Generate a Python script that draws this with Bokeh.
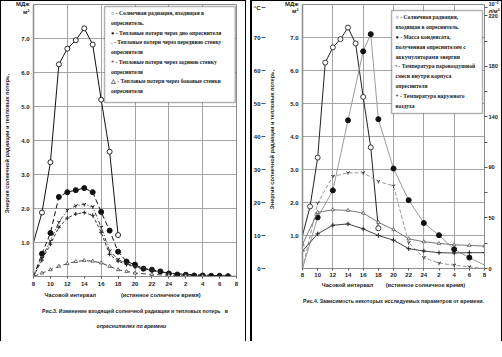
from bokeh.plotting import figure
from bokeh.models import (Range1d, LinearAxis, FixedTicker, Label, BoxAnnotation,
                          NumeralTickFormatter, Title)
from bokeh.layouts import row
from bokeh.embed import file_html
from bokeh.resources import INLINE

# ---------------- data ----------------
HOUR_TICKS = [8, 10, 12, 14, 16, 18, 20, 22, 24, 26, 28, 30, 32]
HOUR_LABELS = ["8", "10", "12", "14", "16", "18", "20", "22", "24", "2", "4", "6", "8"]
GRID_HOURS = [12, 16, 20, 24, 28]
ENERGY_TICKS = [1, 2, 3, 4, 5, 6, 7]
TEMP_TICKS = [0, 10, 20, 30, 40, 50, 60, 70]
MASS_TICKS = [0, 44, 88, 132, 176, 220]
MASS_LABELS = ["0", "50", "90", "140", "180", "220"]
MASS_MINOR = [22, 66, 110, 154, 198]

# solar radiation entering the still, MJ/m2
SOLAR_H = [8, 9, 10, 11, 12, 13, 14, 15, 16, 17, 18]
SOLAR = [1.0, 1.88, 3.36, 6.24, 6.70, 6.95, 7.30, 6.82, 5.20, 3.67, 1.22]

# Fig.3 heat losses, MJ/m2
BOTTOM_H = [8, 9, 10, 11, 12, 13, 14, 15, 16, 17, 18, 19, 20, 21, 22, 23, 24, 25, 26, 27, 28, 29, 30, 31, 32]
BOTTOM = [0.0, 0.67, 1.28, 2.34, 2.48, 2.54, 2.60, 2.48, 1.90, 1.35, 0.73, 0.44, 0.35, 0.23, 0.20,
          0.15, 0.09, 0.06, 0.05, 0.03, 0.03, 0.02, 0.02, 0.01, 0.0]
WALL_H = [8, 9, 10, 11, 12, 13, 14, 15, 16, 17, 18, 19, 20, 21, 22, 23, 24, 26, 28, 30, 32]
FRONT = [0.0, 0.55, 1.05, 1.60, 1.95, 2.08, 2.12, 2.05, 1.45, 0.75, 0.50, 0.38, 0.30, 0.24, 0.18,
         0.14, 0.10, 0.06, 0.04, 0.02, 0.0]
BACK = [0.0, 0.48, 0.95, 1.45, 1.72, 1.84, 1.88, 1.80, 1.30, 0.65, 0.45, 0.35, 0.28, 0.22, 0.17,
        0.13, 0.10, 0.06, 0.04, 0.02, 0.0]
SIDE_H = [8, 9, 10, 11, 12, 13, 14, 15, 16, 17, 18, 19, 20, 22, 24, 26, 28, 30, 32]
SIDE = [0.0, 0.10, 0.20, 0.30, 0.38, 0.44, 0.47, 0.45, 0.40, 0.30, 0.20, 0.15, 0.10, 0.06, 0.04,
        0.02, 0.01, 0.0, 0.0]

# Fig.4
MASS_H = [8, 10, 12, 14, 16, 17, 18, 20, 22, 24, 26, 28, 30, 32]
MASS = [0, 44.5, 68, 129, 189, 204, 130, 87, 59.5, 39.6, 29, 16.7, 9.5, 3]
TEMP_H = [8, 10, 12, 14, 16, 18, 20, 22, 24, 26, 28, 30, 32]
VAPOUR = [0, 19.8, 27.9, 29.0, 29.0, 26.4, 25.0, 7.8, 3.3, 1.6, 1.0, 0.5, 0.0]
WATER = [7.3, 17.0, 17.8, 17.6, 16.8, 14.0, 11.8, 9.0, 8.1, 7.6, 7.2, 7.0, 6.8]
AIR = [5.3, 10.5, 13.1, 13.5, 12.0, 10.0, 8.6, 6.0, 5.3, 4.8, 4.7, 4.8, 4.8]

NB = "\u00a0"
Y_LABEL = "Энергия  солнечной  радиации  и  тепловых потерь,"
X_LABEL_L = "Часовой интервал" + NB * 16 + "(истинное солнечное время)" + NB * 16
X_LABEL_R = "Часовой интервал" + NB * 8 + "(истинное солнечное время)"
CAPTION_3A = "Рис.3. Изменение входящей солнечной радиации и тепловых потерь" + NB * 3 + "в"
CAPTION_3B = "опреснителях по времени"
CAPTION_4 = "Рис.4. Зависимость некоторых исследуемых параметров от времени."
UNIT_ENERGY = "МДж\nм²"
UNIT_TEMP = "°C"
UNIT_MASS = "10⁻²\nл/м²"
LEGEND_3 = ["○ - Солнечная радиация, входящая в",
            "опреснитель.",
            "● - Тепловые потери через дно опреснителя",
            "ᵥ - Тепловые потери через переднюю стенку",
            "опреснителя",
            "+ - Тепловые потери через заднюю стенку",
            "опреснителя",
            "△ - Тепловые потери через боковые стенки",
            "опреснителя"]
LEGEND_4 = ["○ - Солнечная радиация,",
            "входящая в опреснитель.",
            "● - Масса конденсата,",
            "полученная опреснителем с",
            "аккумуляторами энергии",
            "ᵛ - Температура паровоздушной",
            "смеси внутри корпуса",
            "опреснителя",
            "+ - Температура наружного",
            "воздуха"]

SANS = "Liberation Sans"
SERIF = "Liberation Serif"
INK = "#1a1a1a"
GRID = "#9a9a9a"


def style_axis(ax, out=3, standoff=2, size="6px"):
    ax.major_label_text_font = SANS
    ax.major_label_text_font_size = size
    ax.major_label_text_font_style = "bold"
    ax.major_label_text_color = "#222222"
    ax.major_tick_line_color = "#555555"
    ax.minor_tick_line_color = None
    ax.axis_line_color = "#8a8a8a"
    ax.major_tick_in = 0
    ax.major_tick_out = out
    ax.major_label_standoff = standoff


def base_fig(mbl, fw, mbr, fh, mbb, label_standoff, x_label, unit_at, x_standoff, xl_standoff):
    p = figure(frame_width=fw, frame_height=fh, min_border_left=mbl, min_border_right=mbr,
               min_border_top=4, min_border_bottom=mbb,
               x_range=Range1d(8, 32), y_range=Range1d(0, 8),
               output_backend="svg", toolbar_location=None,
               background_fill_color="white", border_fill_color=None,
               outline_line_color="#8a8a8a", outline_line_width=1)
    p.xaxis.ticker = FixedTicker(ticks=HOUR_TICKS)
    p.xaxis.major_label_overrides = {t: s for t, s in zip(HOUR_TICKS, HOUR_LABELS)}
    style_axis(p.xaxis[0], out=2, standoff=x_standoff)
    p.xaxis.axis_label = x_label
    p.xaxis.axis_label_text_font = SANS
    p.xaxis.axis_label_text_font_size = "5.6px"
    p.xaxis.axis_label_text_font_style = "bold"
    p.xaxis.axis_label_text_color = "#222222"
    p.xaxis.axis_label_standoff = xl_standoff
    p.yaxis.ticker = FixedTicker(ticks=ENERGY_TICKS + [unit_at])
    p.yaxis.formatter = NumeralTickFormatter(format="0.0")
    p.yaxis.major_label_overrides = {unit_at: UNIT_ENERGY}
    style_axis(p.yaxis[0], out=0, standoff=4)
    p.yaxis.axis_line_width = 1.5
    p.yaxis.axis_label = Y_LABEL
    p.yaxis.axis_label_text_font = SANS
    p.yaxis.axis_label_text_font_size = "5.6px"
    p.yaxis.axis_label_text_font_style = "bold"
    p.yaxis.axis_label_text_color = "#222222"
    p.yaxis.axis_label_standoff = label_standoff
    p.xgrid.ticker = FixedTicker(ticks=GRID_HOURS)
    p.ygrid.ticker = FixedTicker(ticks=ENERGY_TICKS)
    p.xgrid.grid_line_color = GRID
    p.ygrid.grid_line_color = GRID
    p.xgrid.grid_line_width = 0.9
    p.ygrid.grid_line_width = 0.9
    return p


def caption(p, s, align="center", offset=0, style="bold", size="5.2px", standoff=2):
    p.add_layout(Title(text=s, align=align, offset=offset, text_font=SANS,
                       text_font_size=size, text_font_style=style, text_color=INK,
                       standoff=standoff), "below")


def legend_lines(p, lines, x, y0, step):
    for i, s in enumerate(lines):
        p.add_layout(Label(x=x, y=y0, y_offset=-step * i, text=s, text_font=SERIF,
                           text_font_size="5.6px", text_font_style="bold",
                           text_align="left", text_baseline="middle", text_color=INK))


# ---------------- Fig. 3 (left) ----------------
p1 = base_fig(27, 203, 10, 272, 65, 3, X_LABEL_L, 7.9, 3, 3)
p1.styles = {"box-shadow": "inset 1px 1px 0 0 #000, inset -1px 0 0 0 #000"}

p1.line(SOLAR_H, SOLAR, line_color="#111111", line_width=1)
p1.scatter(SOLAR_H[1:], SOLAR[1:], marker="circle", size=5, fill_color="white",
           line_color="#111111", line_width=0.9)
p1.line(BOTTOM_H, BOTTOM, line_color="#111111", line_width=1, line_dash="5 3")
p1.scatter(BOTTOM_H[1:-1], BOTTOM[1:-1], marker="circle", size=5, fill_color="#111111",
           line_color="#111111")
p1.line(WALL_H, FRONT, line_color="#222222", line_width=0.9, line_dash="4 2 1 2")
p1.scatter(WALL_H[1:-1], FRONT[1:-1], marker="y", size=4, line_color="#222222")
p1.line(WALL_H, BACK, line_color="#222222", line_width=0.9, line_dash="3 2")
p1.scatter(WALL_H[1:-1], BACK[1:-1], marker="cross", size=4, line_color="#222222")
p1.line(SIDE_H, SIDE, line_color="#333333", line_width=0.9, line_dash="5 3")
p1.scatter(SIDE_H[1:-2], SIDE[1:-2], marker="triangle", size=3.5, fill_color="white",
           line_color="#333333", line_width=0.7)

# legend box: page px 106..237 x 14..110 (frame left 35, top 12, 8.458 px/h, 34 px/unit)
p1.add_layout(BoxAnnotation(left=16.4, right=31.85, top=7.94, bottom=5.12,
                            fill_color="white", fill_alpha=1, line_color="black",
                            line_width=1.5))
legend_lines(p1, LEGEND_3, 17.15, 7.74, 9.7)

caption(p1, CAPTION_3A, align="center", standoff=11)
caption(p1, CAPTION_3B, align="left", offset=63, style="bold italic", standoff=3)

# ---------------- Fig. 4 (right) ----------------
p2 = base_fig(45, 182, 15, 264, 73, 7, X_LABEL_R, 7.9, 2, 2)
p2.styles = {"box-shadow": "inset 2px 1px 0 0 #000, inset -1px 0 0 0 #000"}
p2.extra_y_ranges = {"temp": Range1d(0, 80), "mass": Range1d(0, 229.8)}

temp_axis = LinearAxis(y_range_name="temp", ticker=FixedTicker(ticks=TEMP_TICKS + [79]),
                       major_label_overrides={79: UNIT_TEMP})
style_axis(temp_axis, out=4, standoff=1)
temp_axis.axis_line_color = None
p2.add_layout(temp_axis, "left")

mass_axis = LinearAxis(y_range_name="mass",
                       ticker=FixedTicker(ticks=MASS_TICKS + [227.6], minor_ticks=MASS_MINOR),
                       major_label_overrides={**{t: s for t, s in zip(MASS_TICKS, MASS_LABELS)},
                                              227.6: UNIT_MASS})
style_axis(mass_axis, out=3, standoff=1, size="5.6px")
mass_axis.minor_tick_line_color = "#555555"
mass_axis.minor_tick_in = 0
mass_axis.minor_tick_out = 3
p2.add_layout(mass_axis, "right")

p2.line(SOLAR_H, SOLAR, line_color="#222222", line_width=1)
p2.scatter(SOLAR_H[1:], SOLAR[1:], marker="circle", size=5, fill_color="white",
           line_color="#222222", line_width=0.9)
p2.line(MASS_H, MASS, y_range_name="mass", line_color="#9a9a9a", line_width=1)
p2.scatter(MASS_H[1:-1], MASS[1:-1], y_range_name="mass", marker="circle", size=5,
           fill_color="#111111", line_color="#111111")
p2.line(TEMP_H, VAPOUR, y_range_name="temp", line_color="#9a9a9a", line_width=1,
        line_dash="4 2")
p2.scatter(TEMP_H[1:-1], VAPOUR[1:-1], y_range_name="temp", marker="y", size=4,
           line_color="#444444")
p2.line(TEMP_H, WATER, y_range_name="temp", line_color="#777777", line_width=1)
p2.scatter(TEMP_H, WATER, y_range_name="temp", marker="triangle", size=3.5,
           fill_color="white", line_color="#444444", line_width=0.7)
p2.line(TEMP_H, AIR, y_range_name="temp", line_color="#444444", line_width=1)
p2.scatter(TEMP_H, AIR, y_range_name="temp", marker="cross", size=4.5, line_color="#222222")

# legend box: page px 386..477 x 18..121 (frame left 297, top 12, 7.583 px/h, 33 px/unit)
p2.add_layout(BoxAnnotation(left=19.74, right=31.74, top=7.82, bottom=4.70,
                            fill_color="white", fill_alpha=1, line_color="black",
                            line_width=1.5))
legend_lines(p2, LEGEND_4, 20.26, 7.61, 9.8)

caption(p2, CAPTION_4, align="center", standoff=11)

layout = row(p1, p2, spacing=4)
open("out.html", "w").write(file_html(layout, INLINE))
